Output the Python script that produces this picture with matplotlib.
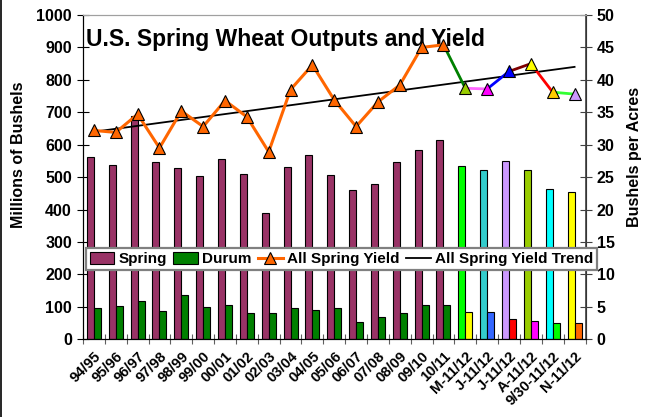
import matplotlib
matplotlib.use("Agg")
import matplotlib.pyplot as plt
from matplotlib.lines import Line2D
from matplotlib.patches import Patch

plt.rcParams["font.family"] = ["Liberation Sans", "DejaVu Sans"]
plt.rcParams["font.weight"] = "bold"

CATEGORIES = [
    "94/95", "95/96", "96/97", "97/98", "98/99", "99/00", "00/01", "01/02",
    "02/03", "03/04", "04/05", "05/06", "06/07", "07/08", "08/09", "09/10",
    "10/11", "M-11/12", "J-11/12", "J-11/12", "A-11/12", "9/30-11/12", "N-11/12",
]
SPRING = [563, 537, 688, 548, 528, 503, 557, 511, 389, 531, 568, 506, 460, 480,
          547, 585, 616, 535, 523, 550, 522, 463, 455]
DURUM = [96, 102, 117, 88, 136, 99, 107, 82, 80, 96, 91, 98, 53, 70, 82, 107,
         107, 85, 85, 63, 57, 50, 51]
YIELD = [32.2, 31.9, 34.7, 29.5, 35.2, 32.8, 36.8, 34.3, 28.9, 38.5, 42.3, 36.9,
         32.8, 36.6, 39.2, 45.0, 45.4, 38.7, 38.6, 41.3, 42.5, 38.1, 37.8]
TREND_X = [0, 22]
TREND = [32.0, 42.0]

SPRING_COLORS = ["#993366"] * 17 + ["#00FF00", "#33CCCC", "#CC99FF", "#99CC00", "#00FFFF", "#FFFF00"]
DURUM_COLORS = ["#008000"] * 17 + ["#FFFF00", "#3366FF", "#FF0000", "#FF00FF", "#00FF00", "#FF6600"]
MARKER_COLORS = ["#FF6600"] * 17 + ["#99CC00", "#FF00FF", "#0000FF", "#FFFF00", "#FFCC00", "#CC99FF"]
SEGMENT_COLORS = ["#008000", "#FF66FF", "#0000FF", "#800000", "#FF0000", "#33FF33"]

W, H = 650, 417
fig = plt.figure(figsize=(W / 100, H / 100), dpi=100)
ax = fig.add_axes([83 / W, 1 - 339.3 / H, 502.5 / W, 324.3 / H])
ax2 = ax.twinx()

x = list(range(len(CATEGORIES)))
width = 0.32
ax.bar([i - 0.16 for i in x], SPRING, width, color=SPRING_COLORS, edgecolor="black", linewidth=0.8, zorder=2)
ax.bar([i + 0.16 for i in x], DURUM, width, color=DURUM_COLORS, edgecolor="black", linewidth=0.8, zorder=2)

ax.set_xlim(-0.5, len(CATEGORIES) - 0.5)
ax.set_ylim(0, 1000)
ax.set_yticks(range(0, 1001, 100))
ax.set_xticks([i - 0.5 for i in range(len(CATEGORIES) + 1)])
ax.set_xticklabels([])
ax.set_xticks(x, minor=True)
ax.set_xticklabels(CATEGORIES, minor=True, rotation=45, ha="right", va="top",
                   rotation_mode="anchor", fontsize=10.5, fontweight="bold")
ax.tick_params(axis="x", which="minor", length=0, pad=7)
ax.tick_params(axis="x", which="major", direction="inout", length=7, color="#606060")
ax.tick_params(axis="y", direction="inout", length=8, labelsize=11.5, pad=4)

ax2.set_ylim(0, 50)
ax2.set_yticks(range(0, 51, 5))
ax2.tick_params(axis="y", direction="inout", length=8, labelsize=11.5, pad=4, color="#404040")

ax.spines["top"].set_color("#A0A0A0")
ax2.spines["top"].set_color("#A0A0A0")
ax2.spines["right"].set_color("#404040")
ax2.spines["right"].set_linewidth(1.2)

fig.text(18.5 / W, 1 - 155 / H, "Millions of Bushels", rotation=90, ha="center", va="center",
         fontsize=11.5, fontweight="bold")
fig.text(635 / W, 1 - 156.5 / H, "Bushels per Acres", rotation=90, ha="center", va="center",
         fontsize=11.5, fontweight="bold")

ax2.plot(TREND_X, TREND, color="black", linewidth=1.3, zorder=3)
ax2.plot(x[:17], YIELD[:17], color="#FF6600", linewidth=2.2, zorder=4)
for k, color in enumerate(SEGMENT_COLORS):
    i = 16 + k
    ax2.plot(x[i:i + 2], YIELD[i:i + 2], color=color, linewidth=2.0, zorder=4)
for i in x:
    ax2.plot(x[i], YIELD[i], marker="^", markersize=9, color=MARKER_COLORS[i],
             markeredgecolor="black", markeredgewidth=0.8, linestyle="none", zorder=5)

ax.text(0.006, 0.96, "U.S. Spring Wheat Outputs and Yield", transform=ax.transAxes,
        fontsize=16.5, fontweight="bold", ha="left", va="top", zorder=6)

handles = [
    Patch(facecolor="#993366", edgecolor="black", linewidth=0.8),
    Patch(facecolor="#008000", edgecolor="black", linewidth=0.8),
    Line2D([], [], color="#FF6600", linewidth=2.2, marker="^", markersize=9,
           markerfacecolor="#FF6600", markeredgecolor="black", markeredgewidth=0.8),
    Line2D([], [], color="black", linewidth=1.3),
]
labels = ["Spring", "Durum", "All Spring Yield", "All Spring Yield Trend"]
leg = fig.legend(handles, labels, loc="center", bbox_to_anchor=(341.5 / W, 1 - 259 / H), ncol=4,
                 frameon=True, fancybox=False, framealpha=1,
                 edgecolor="#808080", handlelength=1.6, handleheight=0.8, handletextpad=0.3,
                 columnspacing=0.42, borderpad=0.25, borderaxespad=0,
                 prop={"weight": "bold", "size": 11})
leg.get_frame().set_linewidth(1.6)
leg.set_zorder(10)

fig.add_artist(Line2D([0.8 / W, 0.8 / W], [0, 1], color="black", linewidth=1.2, transform=fig.transFigure))

fig.savefig("out.png", dpi=100)
